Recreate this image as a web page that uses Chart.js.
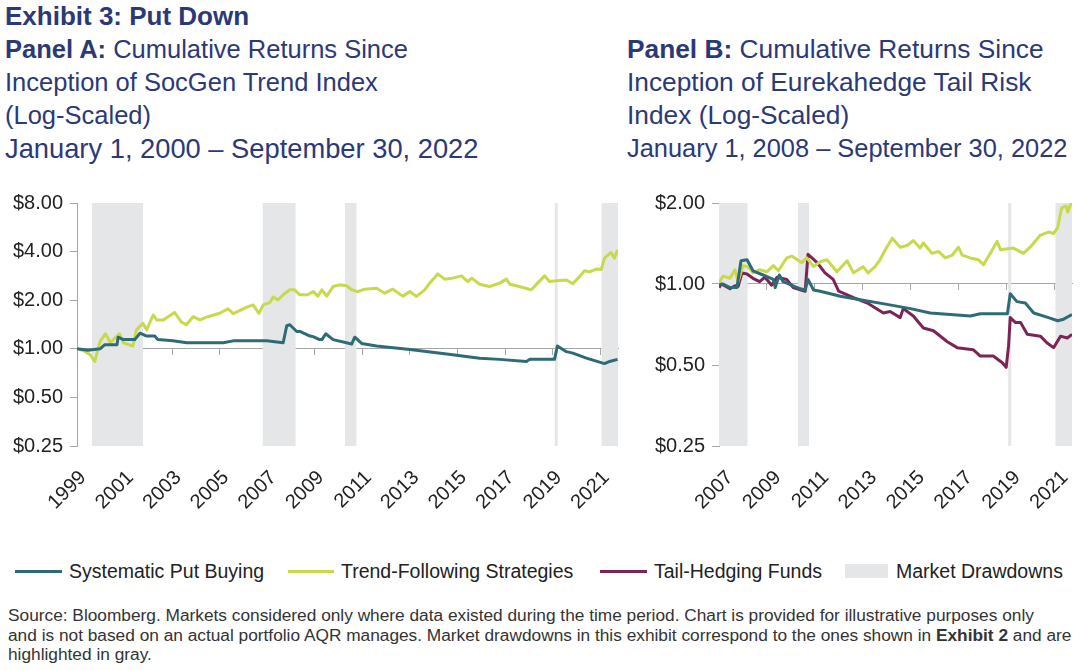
<!DOCTYPE html>
<html>
<head>
<meta charset="utf-8">
<script src="https://cdn.jsdelivr.net/npm/chart.js@4.4.0/dist/chart.umd.min.js"></script>
<style>
  html,body{margin:0;padding:0;background:#fff;}
  body{width:1080px;height:670px;position:relative;overflow:hidden;font-family:"Liberation Sans",Arial,sans-serif;}
  .ttl{position:absolute;color:#2b3977;font-size:26px;line-height:33px;white-space:nowrap;}
  .ttl div{height:33px;}
  .ttl b{font-weight:bold;}
  #cA{position:absolute;left:0;top:190px;}
  #cB{position:absolute;left:625px;top:190px;}
  #legend{position:absolute;top:559px;left:0;width:1080px;height:24px;font-size:19.5px;color:#222;}
  .li{position:absolute;top:0;height:24px;line-height:24px;white-space:nowrap;}
  .sw{position:absolute;top:11px;height:3px;}
  .box{position:absolute;top:5px;height:14px;background:#e5e6e8;}
  #foot{position:absolute;left:8px;top:606px;width:1072px;font-size:17.3px;line-height:19.5px;color:#333;white-space:nowrap;}
</style>
</head>
<body>
<div class="ttl" style="left:5px;top:0px;"><b>Exhibit 3: Put Down</b></div>
<div class="ttl" style="left:5px;top:33px;">
  <div style="font-size:25.5px;"><b>Panel A:</b> Cumulative Returns Since</div>
  <div style="font-size:25.5px;">Inception of SocGen Trend Index</div>
  <div style="font-size:25.5px;">(Log-Scaled)</div>
  <div style="font-size:27.3px;">January 1, 2000 – September 30, 2022</div>
</div>
<div class="ttl" style="left:627px;top:33px;">
  <div style="font-size:26.3px;"><b>Panel B:</b> Cumulative Returns Since</div>
  <div style="font-size:26.3px;">Inception of Eurekahedge Tail Risk</div>
  <div style="font-size:26.3px;">Index (Log-Scaled)</div>
  <div style="font-size:25.4px;">January 1, 2008 – September 30, 2022</div>
</div>

<canvas id="cA" width="625" height="330"></canvas>
<canvas id="cB" width="455" height="330"></canvas>

<div id="legend">
  <div class="sw" style="left:15px;width:47px;background:#2e6b77;"></div>
  <div class="li" style="left:69px;">Systematic Put Buying</div>
  <div class="sw" style="left:288px;width:46px;background:#c8d94c;"></div>
  <div class="li" style="left:341px;">Trend-Following Strategies</div>
  <div class="sw" style="left:600px;width:47px;background:#7d2457;"></div>
  <div class="li" style="left:654px;">Tail-Hedging Funds</div>
  <div class="box" style="left:845px;width:43px;"></div>
  <div class="li" style="left:896px;">Market Drawdowns</div>
</div>

<div id="foot">Source: Bloomberg. Markets considered only where data existed during the time period. Chart is provided for illustrative purposes only<br>and is not based on an actual portfolio AQR manages. Market drawdowns in this exhibit correspond to the ones shown in <b>Exhibit 2</b> and are<br>highlighted in gray.</div>

<script>
// ---------- Panel A data (dates as decimal years) ----------
const putA_dates = [2000.0,2000.47,2000.97,2001.17,2001.68,2001.73,2001.95,2002.43,2002.65,2002.93,2003.27,2003.4,2004.03,2004.62,2006.15,2006.57,2007.98,2008.67,2008.82,2008.95,2009.24,2009.37,2009.8,2009.93,2010.2,2010.3,2010.46,2010.77,2011.55,2011.68,2011.97,2012.6,2014.0,2015.8,2016.93,2017.77,2018.9,2019.03,2020.0,2020.08,2020.2,2020.58,2020.85,2021.42,2022.18,2022.4,2022.73];
const putA_vals  = [1.00,0.98,1.00,1.06,1.06,1.18,1.14,1.14,1.25,1.20,1.20,1.14,1.12,1.09,1.09,1.12,1.12,1.09,1.39,1.41,1.28,1.28,1.20,1.19,1.14,1.14,1.24,1.14,1.07,1.18,1.08,1.04,0.99,0.92,0.875,0.86,0.835,0.86,0.86,0.86,1.04,0.96,0.94,0.875,0.81,0.835,0.86];

const trendA_dates = [2000.0,2000.3,2000.55,2000.75,2000.97,2001.2,2001.4,2001.78,2001.95,2002.35,2002.5,2002.77,2002.93,2003.2,2003.35,2003.63,2003.83,2004.1,2004.4,2004.6,2004.88,2005.17,2005.5,2006.0,2006.35,2006.57,2007.14,2007.4,2007.65,2007.83,2008.1,2008.25,2008.45,2008.67,2008.95,2009.15,2009.37,2009.7,2009.93,2010.13,2010.3,2010.5,2010.77,2011.05,2011.33,2011.55,2011.8,2012.1,2012.6,2012.94,2013.28,2013.7,2014.0,2014.28,2014.62,2014.83,2015.17,2015.46,2015.8,2016.17,2016.43,2016.6,2016.93,2017.35,2017.77,2018.06,2018.2,2018.6,2019.1,2019.37,2019.66,2019.87,2020.3,2020.58,2020.85,2021.13,2021.34,2021.55,2021.83,2022.05,2022.18,2022.46,2022.6,2022.73];
const trendA_vals  = [1.00,0.97,0.92,0.835,1.11,1.24,1.09,1.24,1.09,1.04,1.31,1.44,1.31,1.62,1.51,1.51,1.58,1.68,1.46,1.41,1.58,1.51,1.58,1.66,1.77,1.65,1.81,1.87,1.66,1.87,1.93,2.09,2.01,2.16,2.32,2.32,2.16,2.16,2.26,2.12,2.32,2.12,2.43,2.49,2.46,2.32,2.26,2.34,2.37,2.21,2.34,2.12,2.26,2.11,2.32,2.55,2.91,2.70,2.74,2.83,2.61,2.74,2.51,2.43,2.55,2.70,2.51,2.43,2.32,2.55,2.83,2.61,2.65,2.67,2.53,2.80,3.04,3.00,3.12,3.10,3.64,3.95,3.64,4.10];

// drawdown bands [start, end]
const bandsA_start = [2000.63, 2007.8, 2011.26, 2020.08, 2022.05];
const bandsA_end   = [2002.78, 2009.2, 2011.76, 2020.22, 2022.75];

// ---------- Panel B data ----------
const putB_dates = [2008.0,2008.17,2008.46,2008.75,2008.92,2009.17,2009.42,2009.84,2010.27,2010.35,2010.52,2010.68,2011.4,2011.6,2011.72,2011.95,2012.23,2013.07,2014.02,2015.02,2016.0,2016.83,2018.5,2018.92,2020.05,2020.17,2020.45,2020.8,2021.15,2021.77,2022.15,2022.4,2022.75];
const putB_vals  = [0.99,1.00,0.97,0.97,1.22,1.23,1.12,1.08,1.04,0.97,1.08,1.02,0.96,0.95,1.04,0.95,0.94,0.90,0.87,0.84,0.81,0.78,0.76,0.775,0.775,0.92,0.86,0.85,0.78,0.75,0.73,0.74,0.77];

const trendB_dates = [2008.0,2008.17,2008.46,2008.67,2008.8,2009.0,2009.2,2009.42,2009.7,2010.0,2010.27,2010.48,2010.83,2011.04,2011.46,2011.67,2011.95,2012.23,2012.51,2012.93,2013.35,2013.62,2014.02,2014.23,2014.52,2014.73,2014.95,2015.24,2015.57,2015.86,2016.12,2016.4,2016.54,2016.9,2017.18,2017.45,2017.75,2018.0,2018.16,2018.5,2018.84,2019.05,2019.34,2019.62,2019.76,2020.3,2020.72,2021.0,2021.43,2021.77,2021.98,2022.15,2022.32,2022.5,2022.57,2022.75];
const trendB_vals  = [1.01,1.07,1.05,1.13,1.02,1.17,1.16,1.10,1.13,1.11,1.17,1.12,1.25,1.27,1.20,1.25,1.16,1.21,1.23,1.11,1.22,1.10,1.16,1.10,1.16,1.23,1.34,1.48,1.37,1.39,1.45,1.36,1.42,1.30,1.32,1.25,1.28,1.37,1.28,1.25,1.23,1.18,1.30,1.44,1.34,1.36,1.30,1.37,1.52,1.56,1.54,1.62,1.92,1.95,1.85,2.04];

const tailB_dates = [2008.0,2008.1,2008.46,2008.67,2008.8,2008.96,2009.17,2009.42,2009.7,2009.92,2010.2,2010.43,2010.83,2011.1,2011.6,2011.72,2012.1,2012.43,2012.77,2013.0,2013.62,2014.2,2014.87,2015.15,2015.57,2015.7,2016.12,2016.54,2016.96,2017.54,2017.95,2018.62,2018.92,2019.46,2019.84,2020.0,2020.1,2020.17,2020.38,2020.6,2020.88,2021.43,2021.7,2021.98,2022.27,2022.55,2022.75];
const tailB_vals  = [0.97,1.00,0.96,0.985,0.98,1.10,1.09,1.05,1.02,1.06,0.99,1.06,1.04,0.97,0.94,1.29,1.20,1.10,1.04,0.94,0.89,0.85,0.78,0.79,0.75,0.81,0.76,0.686,0.67,0.61,0.58,0.57,0.54,0.54,0.51,0.49,0.59,0.75,0.72,0.72,0.65,0.64,0.605,0.58,0.64,0.63,0.65];

const bandsB_start = [2008.0, 2011.3, 2020.08, 2022.05];
const bandsB_end   = [2009.2, 2011.77, 2020.22, 2022.75];

// tick labels
const yTicksA = [0.25, 0.5, 1, 2, 4, 8];
const yTicksB = [0.25, 0.5, 1, 2];
const xLabelTicksA = [2000,2002,2004,2006,2008,2010,2012,2014,2016,2018,2020,2022];
const xLabelTicksB = [2008,2010,2012,2014,2016,2018,2020,2022];
const xMarkTicksA = [2002,2004,2006,2008,2010,2012,2014,2016,2018,2020,2022];
const xMarkTicksB = [2010,2012,2014,2016,2018,2020,2022];

const COL_PUT = '#2e6b77', COL_TREND = '#c8d94c', COL_TAIL = '#7d2457', COL_BAND = '#e5e6e8', COL_AXIS = '#a6a6a6';
const TICK_FONT = {family: '"Liberation Sans", Arial, sans-serif', size: 20};

function pts(d, v){ return d.map((x,i)=>({x:x, y:v[i]})); }
function lineDs(label, d, v, color){
  return {label, data: pts(d,v), borderColor: color, borderWidth: 3, pointRadius: 0, fill: false, tension: 0, order: 1, borderJoinStyle:'round'};
}
function bandDs(s, e, top, bottom){
  return s.map((st,i)=>({label:'band', data:[{x:st,y:top},{x:e[i],y:top}], borderWidth:0, pointRadius:0,
    backgroundColor: COL_BAND, borderColor: 'rgba(0,0,0,0)', fill:{value: bottom}, order: 5}));
}
function noPad(s){ s.paddingLeft = 0; s.paddingRight = 0; s.paddingTop = 0; s.paddingBottom = 0; }

function makeChart(id, cfg){
  const ctx = document.getElementById(id);
  return new Chart(ctx, {
    type: 'line',
    data: {datasets: cfg.datasets},
    options: {
      responsive: false, animation: false, maintainAspectRatio: false,
      layout: {padding: {top: 13, right: cfg.padRight, left: 0, bottom: 0}},
      plugins: {legend: {display: false}, tooltip: {enabled: false}},
      scales: {
        x: {
          type: 'linear', min: cfg.xmin, max: cfg.xmax, position: 'bottom',
          grid: {display: false, drawTicks: false}, border: {display: false},
          afterBuildTicks: s => { s.ticks = cfg.xLabelTicks.map(v=>({value:v})); },
          afterFit: s => { s.height = cfg.xHeight; noPad(s); },
          ticks: {autoSkip: false, minRotation: 45, maxRotation: 45, padding: cfg.xPad, labelOffset: cfg.labelOffset,
                  color: '#222', font: TICK_FONT, callback: v => String(v - 1)}
        },
        x2: {
          type: 'linear', min: cfg.xmin, max: cfg.xmax, position: {y: 1},
          grid: {drawOnChartArea: false, drawTicks: true, tickLength: 6, color: COL_AXIS, lineWidth: 1},
          border: {display: true, color: COL_AXIS, width: 1},
          afterBuildTicks: s => { s.ticks = cfg.xMarkTicks.map(v=>({value:v})); },
          afterFit: s => { noPad(s); },
          ticks: {display: false}
        },
        y: {
          type: 'logarithmic', min: cfg.ymin, max: cfg.ymax,
          afterBuildTicks: s => { s.ticks = cfg.yTicks.map(v=>({value:v})); },
          afterFit: s => { s.width = cfg.yWidth; noPad(s); },
          grid: {drawOnChartArea: false, drawTicks: true, tickLength: 7, color: COL_AXIS},
          border: {display: true, color: COL_AXIS, width: 1},
          ticks: {color: '#222', font: TICK_FONT, padding: 7, callback: v => '$' + Number(v).toFixed(2)}
        }
      }
    }
  });
}

makeChart('cA', {
  datasets: [
    lineDs('Systematic Put Buying', putA_dates, putA_vals, COL_PUT),
    lineDs('Trend-Following Strategies', trendA_dates, trendA_vals, COL_TREND),
    ...bandDs(bandsA_start, bandsA_end, 8, 0.25)
  ],
  xmin: 2000, xmax: 2022.75, ymin: 0.25, ymax: 8, yTicks: yTicksA,
  xLabelTicks: xLabelTicksA, xMarkTicks: xMarkTicksA,
  yWidth: 77, xHeight: 74, padRight: 7, xPad: 20, labelOffset: 6
});

makeChart('cB', {
  datasets: [
    lineDs('Systematic Put Buying', putB_dates, putB_vals, COL_PUT),
    lineDs('Trend-Following Strategies', trendB_dates, trendB_vals, COL_TREND),
    lineDs('Tail-Hedging Funds', tailB_dates, tailB_vals, COL_TAIL),
    ...bandDs(bandsB_start, bandsB_end, 2, 0.25)
  ],
  xmin: 2008, xmax: 2022.75, ymin: 0.25, ymax: 2, yTicks: yTicksB,
  xLabelTicks: xLabelTicksB, xMarkTicks: xMarkTicksB,
  yWidth: 94, xHeight: 74, padRight: 8, xPad: 20, labelOffset: 11
});
</script>
</body>
</html>
